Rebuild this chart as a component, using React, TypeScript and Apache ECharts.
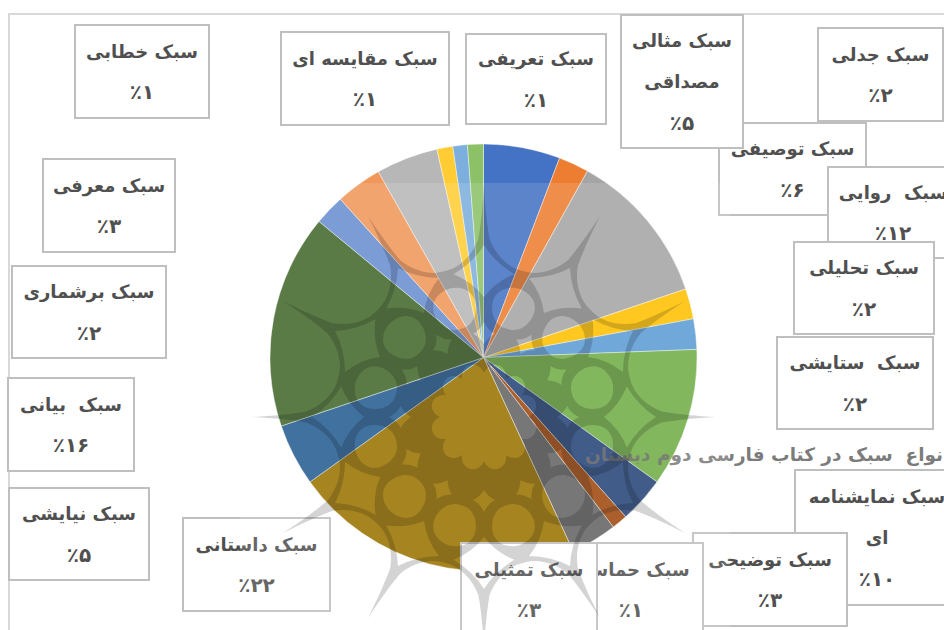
import React, { useEffect, useRef } from "react";
import * as echarts from "echarts";

const titleText = "انواع  سبک در کتاب فارسی دوم دبستان";
const styleNames = [
  "سبک توصیفی", "سبک جدلی", "سبک  روایی", "سبک تحلیلی", "سبک  ستایشی", "سبک نمایشنامه\nای",
  "سبک توضیحی", "سبک حماسی", "سبک تمثیلی", "سبک داستانی", "سبک نیایشی", "سبک  بیانی",
  "سبک برشماری", "سبک معرفی", "سبک مثالی\nمصداقی", "سبک خطابی", "سبک مقایسه ای", "سبک تعریفی",
];
const sliceValues = [5.8, 2.3, 11.7, 2.3, 2.3, 10.5, 3.5, 1.2, 3.5, 22, 4.7, 16.2, 2.3, 3.5, 4.7, 1.2, 1.1, 1.2];
const percentLabels = ["۶", "۲", "۱۲", "۲", "۲", "۱۰", "۳", "۱", "۳", "۲۲", "۵", "۱۶", "۲", "۳", "۵", "۱", "۱", "۱"];
const sliceColors = [
  "#4472C4", "#ED7D31", "#A5A5A5", "#FFC000", "#5B9BD5", "#70AD47", "#264478", "#9E480E", "#636363",
  "#997300", "#255E91", "#43682B", "#698ED0", "#F1975A", "#B7B7B7", "#FFCD33", "#7CAFDD", "#8CC168",
];
// label box layout: left, top, right, bottom
const labelBoxes = [
  [719, 123, 866, 215], [818, 28, 943, 121], [828, 167, 958, 258], [794, 242, 934, 334],
  [777, 337, 933, 429], [795, 470, 959, 605], [693, 533, 847, 626], [559, 543, 703, 636],
  [461, 543, 597, 636], [183, 518, 330, 611], [9, 488, 149, 580], [8, 378, 134, 471],
  [12, 266, 166, 358], [43, 159, 175, 252], [621, 15, 743, 148], [75, 25, 209, 118],
  [281, 32, 449, 125], [466, 34, 606, 124],
];

const LH = 41;

function pt(r: number, deg: number, cx: number, cy: number) {
  const a = (deg * Math.PI) / 180;
  return `${(cx + r * Math.sin(a)).toFixed(1)} ${(cy - r * Math.cos(a)).toFixed(1)}`;
}

function watermarkPath() {
  const cx = 484;
  const cy = 417;
  const p = (r: number, a: number) => pt(r, a, cx, cy);
  let d = `M${p(232, 0)}`;
  // outer star with twelve thin rays and scallops (clockwise)
  for (let k = 0; k < 12; k++) {
    const a = k * 30;
    d += `C${p(212, a + 0.3)} ${p(195, a + 0.8)} ${p(178, a + 1.8)}`;
    d += `C${p(163, a + 4)} ${p(151, a + 9)} ${p(151, a + 15)}`;
    d += `C${p(151, a + 21)} ${p(163, a + 26)} ${p(178, a + 28.2)}`;
    d += `C${p(195, a + 29.2)} ${p(212, a + 29.7)} ${p(232, a + 30)}`;
  }
  d += "Z";
  // holes, counter-clockwise
  for (let k = 0; k < 12; k++) {
    const a = k * 30;
    // big concave diamond
    d += `M${p(172, a)}Q${p(155, a - 4)} ${p(146, a - 12)}Q${p(136, a - 5)} ${p(120, a)}Q${p(136, a + 5)} ${p(146, a + 12)}Q${p(155, a + 4)} ${p(172, a)}Z`;
    // small diamond
    d += `M${p(95, a)}Q${p(86, a - 3)} ${p(84, a - 7.5)}Q${p(80, a - 3)} ${p(73, a)}Q${p(80, a + 3)} ${p(84, a + 7.5)}Q${p(86, a + 3)} ${p(95, a)}Z`;
    // rounded cell between diamonds
    const b = a + 15;
    const r0 = 112;
    const rr = Math.asin(21 / r0) * (180 / Math.PI);
    d += `M${p(r0 + 21, b)}C${p(r0 + 21, b - rr * 0.62)} ${p(r0 + 12, b - rr)} ${p(r0, b - rr)}`;
    d += `C${p(r0 - 12, b - rr)} ${p(r0 - 21, b - rr * 0.62)} ${p(r0 - 21, b)}`;
    d += `C${p(r0 - 21, b + rr * 0.62)} ${p(r0 - 12, b + rr)} ${p(r0, b + rr)}`;
    d += `C${p(r0 + 12, b + rr)} ${p(r0 + 21, b + rr * 0.62)} ${p(r0 + 21, b)}Z`;
  }
  // centre flower, counter-clockwise
  d += `M${p(44, 0)}`;
  for (let k = 12; k > 0; k--) {
    const a = k * 30;
    d += `C${p(58, a - 6)} ${p(58, a - 24)} ${p(44, a - 30)}`;
  }
  d += "Z";
  return d;
}

echarts.graphic.registerShape("watermark", echarts.graphic.extendPath(watermarkPath(), {}) as any);

export default function App() {
  const ref = useRef<HTMLDivElement>(null);
  useEffect(() => {
    const chart = echarts.init(ref.current!, null, { renderer: "svg" });
    const data = styleNames.map((name, i) => {
      const b = labelBoxes[i];
      const lines = name.split("\n").map((l) => `{n|${l}}`);
      const lineCount = lines.length + 1;
      const boxH = b[3] - b[1] - 2;
      const textH = lineCount * LH;
      return {
        name,
        value: sliceValues[i],
        itemStyle: { color: sliceColors[i] },
        label: {
          formatter: [...lines, `{p|٪${percentLabels[i]}}`].join("\n"),
          width: b[2] - b[0] - 2,
          height: textH,
          padding: [(boxH - textH) / 2, 0, (boxH - textH) / 2, 0],
        },
      };
    });
    chart.setOption({
      animation: false,
      backgroundColor: "#fff",
      title: {
        text: titleText,
        left: 585,
        top: 445,
        padding: 0,
        textStyle: {
          fontFamily: "DejaVu Sans",
          fontSize: 18.5,
          fontWeight: "bold",
          color: "rgba(100,100,100,0.85)",
        },
      },
      series: [
        {
          type: "pie",
          center: [483.5, 357.5],
          radius: [0, 213.5],
          startAngle: 90,
          clockwise: true,
          avoidLabelOverlap: false,
          silent: true,
          itemStyle: { borderColor: "rgba(255,255,255,0.6)", borderWidth: 0.7 },
          labelLine: { show: false },
          label: {
            show: true,
            position: "outside",
            backgroundColor: "#fff",
            borderColor: "#bfbfbf",
            borderWidth: 2,
            align: "center",
            rich: {
              n: { fontFamily: "DejaVu Sans", fontSize: 18, fontWeight: "bold", color: "#505050", lineHeight: LH, align: "center" },
              p: { fontFamily: "DejaVu Sans", fontSize: 20, fontWeight: "bold", color: "#505050", lineHeight: LH, align: "center" },
            },
          },
          labelLayout: (params: any) => {
            const b = labelBoxes[params.dataIndex];
            return {
              x: (b[0] + b[2]) / 2,
              y: (b[1] + b[3]) / 2,
              align: "center",
              verticalAlign: "middle",
              hideOverlap: false,
              moveOverlap: false,
            };
          },
          data,
        },
      ],
      graphic: [
        {
          type: "rect",
          silent: true,
          z: 0,
          shape: { x: 9, y: 14, width: 1100, height: 800 },
          style: { fill: "none", stroke: "#d9d9d9", lineWidth: 2 },
        },
        {
          type: "rect",
          silent: true,
          z: 100,
          shape: { x: 240, y: 183, width: 490, height: 447 },
          style: { fill: "rgba(255,255,255,0.13)" },
        },
        {
          type: "watermark",
          silent: true,
          z: 101,
          x: 0,
          y: 0,
          style: { fill: "rgba(0,0,0,0.17)" },
        },
      ],
    });
    return () => chart.dispose();
  }, []);
  return <div ref={ref} style={{ position: "fixed", left: 0, top: 0, width: 944, height: 630 }} />;
}
